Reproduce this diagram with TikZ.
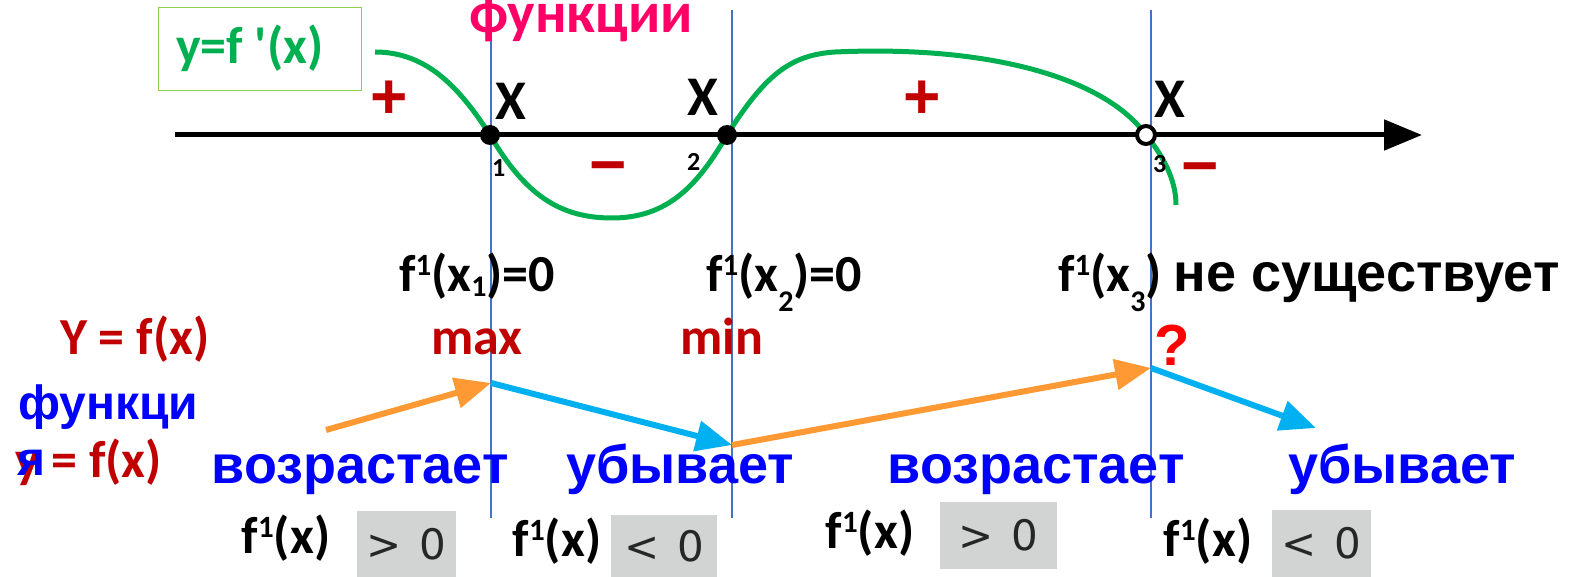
\documentclass[tikz,border=0pt]{standalone}
\usepackage{fontspec}
\setmainfont{Carlito}
\newfontfamily\arialfont{Liberation Sans}
\newfontfamily\boxfont{DejaVu Sans}
\usetikzlibrary{arrows.meta}
\definecolor{crvgreen}{HTML}{00B050}
\definecolor{boxgreen}{HTML}{92D050}
\definecolor{darkred}{HTML}{C00000}
\definecolor{hotpink}{HTML}{FF0066}
\definecolor{incorange}{HTML}{FF9933}
\definecolor{decblue}{HTML}{00B0F0}
\definecolor{gridblue}{HTML}{4472C4}
\definecolor{cmpgray}{HTML}{D2D3D3}
\newcommand{\supone}{\raisebox{16pt}{\fontsize{31}{31}\selectfont 1}}
\newcommand{\subidx}[2]{\raisebox{-#1}{\fontsize{30}{30}\selectfont #2}}
\tikzset{
  lbl/.style={inner sep=0pt,font=\bfseries\fontsize{52}{52}\selectfont},
  word/.style={inner sep=0pt,text=blue,font=\arialfont\bfseries\fontsize{54}{54}\selectfont},
  sgn/.style={inner sep=0pt,text=darkred,font=\arialfont\bfseries\fontsize{64}{64}\selectfont},
  idx/.style={inner sep=0pt,font=\bfseries\fontsize{26}{26}\selectfont},
  dot/.style={circle,fill=black,minimum size=20pt,inner sep=0pt},
  hole/.style={circle,draw=black,line width=4pt,fill=white,minimum size=18pt,inner sep=0pt},
  cmpbox/.style={fill=cmpgray,inner sep=0pt,text=black!85,font=\boxfont\fontsize{42}{42}\selectfont},
  vline/.style={gridblue,line width=1.5pt},
  incarrow/.style={line width=6pt,incorange,-{Triangle[length=36pt,width=30pt]}},
  decarrow/.style={line width=6pt,decblue,-{Triangle[length=36pt,width=30pt]}},
}

\begin{document}
\begin{tikzpicture}[x=1pt,y=-1pt]
  \useasboundingbox (0,0) rectangle (1575,577);
  % vertical lines through x1, x2, x3
  \coordinate (v1t) at (491,10);  \coordinate (v1b) at (491,518);
  \coordinate (v2t) at (732,10);  \coordinate (v2b) at (732,518);
  \coordinate (v3t) at (1151,10); \coordinate (v3b) at (1151,518);
  \draw[vline] (v1t) -- (v1b);
  \draw[vline] (v2t) -- (v2b);
  \draw[vline] (v3t) -- (v3b);

  % axis
  \coordinate (ax0) at (175,135);
  \coordinate (ax1) at (1422,135);
  \draw[line width=5pt,-{Triangle[length=38pt,width=30pt]}] (ax0) -- (ax1);

  % graph of f'
  \coordinate (p1) at (490,135);
  \coordinate (p2) at (727,135);
  \coordinate (p3) at (1146,135);
  \draw[crvgreen,line width=5pt]
    (375,52) .. controls (425,52) and (458,85) .. (p1)
    .. controls (525,195) and (560,218) .. (612,218)
    .. controls (668,218) and (698,185) .. (p2)
    .. controls (765,75) and (790,55) .. (835,52)
    .. controls (990,45) and (1105,78) .. (p3)
    .. controls (1168,162) and (1176,185) .. (1176,205);
  \node[dot] (x1) at (p1) {};
  \node[dot] (x2) at (p2) {};
  \node[hole] (x3) at (p3) {};

  \node[draw=boxgreen,line width=1.5pt,minimum width=203pt,minimum height=83pt] (legend) at (260,49) {};
  \node[lbl,text=crvgreen,anchor=base west] (legendtxt) at (176,64) {y=f \textquotesingle(x)};
  \node[lbl,text=hotpink,anchor=base,font=\bfseries\fontsize{58}{58}\selectfont] (fnname) at (581,33) {функции};

  \node[lbl,anchor=base west,font=\bfseries\fontsize{56}{56}\selectfont] (X1) at (495,120) {X};
  \node[lbl,anchor=base west,font=\bfseries\fontsize{56}{56}\selectfont] (X2) at (687,116) {X};
  \node[lbl,anchor=base west,font=\bfseries\fontsize{56}{56}\selectfont] (X3) at (1154,118) {X};
  \node[idx,anchor=base west] (sub1) at (492,177) {1};
  \node[idx,anchor=base west] (sub2) at (687,171) {2};
  \node[idx,anchor=base west] (sub3) at (1153,173) {3};

  \node[sgn] (plusA) at (389,100) {+};
  \node[sgn] (minusA) at (608,174) {−};
  \node[sgn] (plusB) at (922,100) {+};
  \node[sgn] (minusB) at (1200,175) {−};

  \node[lbl,anchor=base] (crit1) at (477,292) {f\supone(x\subidx{5pt}{1})=0};
  \node[lbl,anchor=base] (crit2) at (784,292) {f\supone(x\subidx{20pt}{2})=0};
  \node[lbl,anchor=base west] (crit3) at (1058,292) {f\supone(x\subidx{20pt}{3}) {\arialfont\fontsize{54}{54}\selectfont не существует}};

  \node[lbl,text=darkred,anchor=base west] (yfx) at (60,355) {Y = f(x)};
  \node[lbl,text=darkred,anchor=base] (maxlbl) at (477,355) {max};
  \node[lbl,text=darkred,anchor=base] (minlbl) at (722,355) {min};
  \node[word,text=red,anchor=base,font=\arialfont\bfseries\fontsize{58}{58}\selectfont] (qmark) at (1172,366) {?};

  \node[lbl,text=darkred,anchor=base west] (yfx2) at (15,477) {y = f(x)};
  \node[word,anchor=base west,font=\arialfont\bfseries\fontsize{48}{48}\selectfont] (fnword) at (18,420) {функци};
  \node[word,anchor=base west,font=\arialfont\bfseries\fontsize{48}{48}\selectfont] (fnya) at (17,475) {я};

  % monotonicity arrows
  \coordinate (a0) at (326,430);
  \coordinate (m1) at (491,383);
  \coordinate (m2) at (732,445);
  \coordinate (m3) at (1151,368);
  \coordinate (a4) at (1316,428);
  \draw[incarrow] (a0) -- (m1);
  \draw[decarrow] (m1) -- (m2);
  \draw[incarrow] (m2) -- (m3);
  \draw[decarrow] (m3) -- (a4);

  \node[word,anchor=base] (inc1) at (360,483) {возрастает};
  \node[word,anchor=base] (dec1) at (680,483) {убывает};
  \node[word,anchor=base] (inc2) at (1036,483) {возрастает};
  \node[word,anchor=base] (dec2) at (1402,483) {убывает};

  \node[lbl,anchor=base] (der1) at (286,553) {f\supone(x)};
  \node[lbl,anchor=base] (der2) at (557,556) {f\supone(x)};
  \node[lbl,anchor=base] (der3) at (870,548) {f\supone(x)};
  \node[lbl,anchor=base] (der4) at (1208,556) {f\supone(x)};

  \node[cmpbox,minimum width=99pt,minimum height=66pt] (cmp1) at (406,544) {>\hspace{18pt}0};
  \node[cmpbox,minimum width=106pt,minimum height=62pt] (cmp2) at (664,546) {<\hspace{18pt}0};
  \node[cmpbox,minimum width=117pt,minimum height=67pt] (cmp3) at (998,535) {>\hspace{18pt}0};
  \node[cmpbox,minimum width=99pt,minimum height=67pt] (cmp4) at (1321,543) {<\hspace{18pt}0};
\end{tikzpicture}
\end{document}
